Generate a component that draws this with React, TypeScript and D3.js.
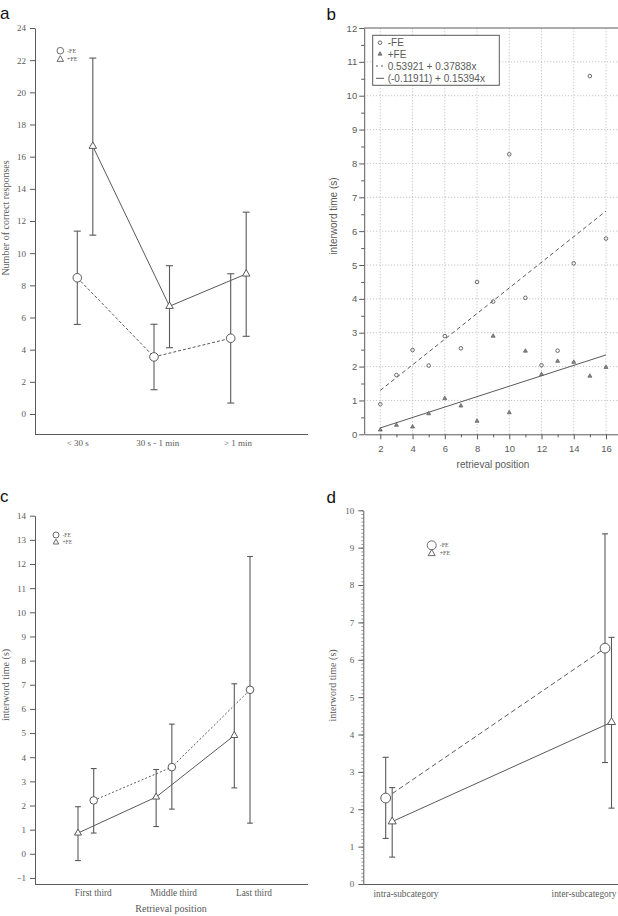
import React, { useEffect, useRef } from 'react';
import * as d3 from 'd3';

// a: number of correct responses per time bin (mean with error range)
const timeBins = ['< 30 s', '30 s - 1 min', '> 1 min'];
const correctNoFE = [8.47, 3.55, 4.71];
const correctNoFELow = [5.57, 1.51, 0.68];
const correctNoFEHigh = [11.37, 5.58, 8.72];
const correctFE = [16.65, 6.7, 8.71];
const correctFELow = [11.12, 4.12, 4.83];
const correctFEHigh = [22.13, 9.22, 12.55];
const correctTicks = [0, 2, 4, 6, 8, 10, 12, 14, 16, 18, 20, 22, 24];

// b: interword time by retrieval position, with linear fits (intercept, slope)
const retrievalPos = [2, 3, 4, 5, 6, 7, 8, 9, 10, 11, 12, 13, 14, 15, 16];
const gapNoFE = [0.89, 1.75, 2.49, 2.03, 2.9, 2.54, 4.5, 3.92, 8.27, 4.03, 2.04, 2.47, 5.05, 10.58, 5.78];
const gapFE = [0.13, 0.27, 0.22, 0.61, 1.06, 0.84, 0.39, 2.9, 0.64, 2.46, 1.77, 2.16, 2.13, 1.72, 1.98];
const fitNoFE = [0.53921, 0.37838];
const fitFE = [-0.11911, 0.15394];
const posTicks = [2, 4, 6, 8, 10, 12, 14, 16];
const posMinor = [3, 5, 7, 9, 11, 13, 15];
const gapTicks = [0, 1, 2, 3, 4, 5, 6, 7, 8, 9, 10, 11, 12];

// c: interword time by third of the retrieval sequence
const thirds = ['First third', 'Middle third', 'Last third'];
const thirdNoFE = [2.21, 3.59, 6.79];
const thirdNoFELow = [0.86, 1.85, 1.27];
const thirdNoFEHigh = [3.53, 5.37, 12.31];
const thirdFE = [0.86, 2.35, 4.9];
const thirdFELow = [-0.28, 1.13, 2.73];
const thirdFEHigh = [1.95, 3.49, 7.04];
const thirdTicks = [-1, 0, 1, 2, 3, 4, 5, 6, 7, 8, 9, 10, 11, 12, 13, 14];

// d: interword time within / between subcategories
const subcats = ['intra-subcategory', 'inter-subcategory'];
const subNoFE = [2.3, 6.31];
const subNoFELow = [1.22, 3.25];
const subNoFEHigh = [3.39, 9.37];
const subFE = [1.67, 4.33];
const subFELow = [0.72, 2.03];
const subFEHigh = [2.58, 6.6];
const subTicks = [0, 1, 2, 3, 4, 5, 6, 7, 8, 9, 10];

const INK = '#5a5a5a';
const SERIF = '"Liberation Serif", "Times New Roman", serif';
const SANS = '"Liberation Sans", Arial, sans-serif';

const triSize = (side: number) => (Math.sqrt(3) * side * side) / 4;

function styleAxis(ag: any, family: string, size: number, color = INK) {
  ag.attr('font-family', null).attr('font-size', null);
  ag.select('.domain').attr('stroke', color);
  ag.selectAll('.tick line').attr('stroke', color);
  ag.selectAll('.tick text')
    .attr('fill', color)
    .style('font-family', family)
    .style('font-size', `${size}px`);
}

function leftAxis(g: any, y: any, ticks: number[], x0: number, family: string, size: number) {
  const ag = g.append('g')
    .attr('transform', `translate(${x0},0)`)
    .call(d3.axisLeft(y).tickValues(ticks).tickSize(5).tickSizeOuter(0).tickPadding(4));
  styleAxis(ag, family, size);
  return ag;
}

function marker(g: any, shape: string, x: number, y: number, size: number, sw = 1) {
  if (shape === 'circle') {
    g.append('circle').attr('cx', x).attr('cy', y).attr('r', size)
      .attr('fill', '#fff').attr('stroke', INK).attr('stroke-width', sw);
  } else {
    g.append('path').attr('d', d3.symbol(d3.symbolTriangle, triSize(size))())
      .attr('transform', `translate(${x},${y})`)
      .attr('fill', '#fff').attr('stroke', INK).attr('stroke-width', sw);
  }
}

type Series = {
  xs: number[];
  vals: number[];
  low: number[];
  high: number[];
  shape: string;
  size: number;
  dash: string | null;
};

// connecting lines first, then error bars, then markers on top
function drawSeries(g: any, y: any, list: Series[], cap: number) {
  const lines = g.append('g');
  const bars = g.append('g');
  const marks = g.append('g');
  list.forEach((s) => {
    const pts = s.vals.map((v, i) => [s.xs[i], y(v)] as [number, number]);
    lines.append('path').attr('d', d3.line()(pts))
      .attr('fill', 'none').attr('stroke', INK).attr('stroke-width', 1)
      .attr('stroke-dasharray', s.dash);
    s.vals.forEach((v, i) => {
      const x = s.xs[i];
      const y1 = y(s.high[i]);
      const y0 = y(s.low[i]);
      bars.append('line').attr('x1', x).attr('x2', x).attr('y1', y1).attr('y2', y0)
        .attr('stroke', INK).attr('stroke-width', 1.1);
      [y1, y0].forEach((yy) => {
        bars.append('line').attr('x1', x - cap).attr('x2', x + cap).attr('y1', yy).attr('y2', yy)
          .attr('stroke', INK).attr('stroke-width', 1.1);
      });
    });
    s.vals.forEach((v, i) => marker(marks, s.shape, s.xs[i], y(v), s.size));
  });
}

function smallLegend(g: any, x: number, y: number, r: number, tri: number, gap: number, fs: number) {
  marker(g, 'circle', x, y, r, 0.9);
  marker(g, 'triangle', x, y + gap, tri, 0.9);
  g.append('text').attr('x', x + r + 3.5).attr('y', y + fs * 0.3).text('-FE')
    .attr('font-family', SERIF).attr('font-size', fs).attr('fill', INK);
  g.append('text').attr('x', x + r + 3.5).attr('y', y + gap + fs * 0.3).text('+FE')
    .attr('font-family', SERIF).attr('font-size', fs).attr('fill', INK);
}

function panelLetter(g: any, x: number, y: number, t: string) {
  g.append('text').attr('x', x).attr('y', y).text(t)
    .attr('font-family', SANS).attr('font-size', 17).attr('fill', '#111');
}

function yTitle(g: any, x: number, y: number, t: string, family: string) {
  g.append('text').attr('transform', `translate(${x},${y}) rotate(-90)`)
    .attr('text-anchor', 'middle').text(t)
    .attr('font-family', family).attr('font-size', 10).attr('fill', INK);
}

function drawA(g: any) {
  const y = d3.scaleLinear().domain([-1.244, 24]).range([434, 28]);
  const x = d3.scalePoint().domain(timeBins).range([77.3, 230.7]);
  const xl = d3.scalePoint().domain(timeBins).range([77.7, 238]);
  panelLetter(g, 0, 19, 'a');
  leftAxis(g, y, correctTicks, 35, SERIF, 9);
  g.append('line').attr('x1', 35).attr('x2', 308).attr('y1', 434.5).attr('y2', 434.5)
    .attr('stroke', INK);
  timeBins.forEach((c) => {
    g.append('text').attr('x', xl(c)).attr('y', 445.5).attr('text-anchor', 'middle').text(c)
      .attr('font-family', SERIF).attr('font-size', 9).attr('fill', INK);
  });
  yTitle(g, 9, 218, 'Number of correct responses', SERIF);
  const cx = timeBins.map((c) => x(c) as number);
  drawSeries(g, y, [
    { xs: cx, vals: correctNoFE, low: correctNoFELow, high: correctNoFEHigh, shape: 'circle', size: 4.3, dash: '3,2' },
    { xs: cx.map((v) => v + 15.5), vals: correctFE, low: correctFELow, high: correctFEHigh, shape: 'triangle', size: 7.5, dash: null },
  ], 3.5);
  smallLegend(g, 60.3, 50.7, 3.3, 6.5, 8.8, 6);
}

function drawB(g: any) {
  const x = d3.scaleLinear().domain([1, 17]).range([364.2, 622.1]);
  const y = d3.scaleLinear().domain([0, 12]).range([434.3, 28]);
  panelLetter(g, 326.5, 20, 'b');

  // dotted grid
  const grid = g.append('g').attr('stroke', '#a8a8a8').attr('stroke-width', 0.8)
    .attr('stroke-dasharray', '1,2');
  posTicks.forEach((p) => grid.append('line').attr('x1', x(p)).attr('x2', x(p))
    .attr('y1', y(0)).attr('y2', y(12)));
  gapTicks.filter((t) => t > 0 && t < 12).forEach((t) => grid.append('line')
    .attr('x1', x(1)).attr('x2', 618).attr('y1', y(t)).attr('y2', y(t)));

  // frame top
  g.append('line').attr('x1', x(1)).attr('x2', 618).attr('y1', y(12)).attr('y2', y(12))
    .attr('stroke', INK).attr('stroke-width', 1.2);

  const ya = g.append('g').attr('transform', `translate(${x(1)},0)`)
    .call(d3.axisLeft(y).tickValues(gapTicks).tickSize(5).tickSizeOuter(0).tickPadding(2));
  styleAxis(ya, SANS, 9.5);
  const yMinor = g.append('g').attr('transform', `translate(${x(1)},0)`)
    .call(d3.axisLeft(y).tickValues(d3.range(0.5, 12, 1)).tickSize(3).tickFormat(() => ''));
  styleAxis(yMinor, SANS, 9.5);
  yMinor.select('.domain').remove();

  const xa = g.append('g').attr('transform', `translate(0,${y(0)})`)
    .call(d3.axisBottom(x).tickValues(posTicks).tickSize(5).tickSizeOuter(0).tickPadding(6));
  styleAxis(xa, SANS, 9.5);
  const xMinor = g.append('g').attr('transform', `translate(0,${y(0)})`)
    .call(d3.axisBottom(x).tickValues(posMinor).tickSize(3).tickFormat(() => ''));
  styleAxis(xMinor, SANS, 9.5);
  xMinor.select('.domain').remove();

  g.append('text').attr('x', 493).attr('y', 468).attr('text-anchor', 'middle')
    .text('retrieval position').attr('font-family', SANS).attr('font-size', 10).attr('fill', INK);
  yTitle(g, 337, 216, 'interword time (s)', SANS);

  // fitted lines
  const fitLine = (f: number[], dash: string | null) => {
    const ends = [2, 16].map((p) => [x(p), y(f[0] + f[1] * p)] as [number, number]);
    g.append('path').attr('d', d3.line()(ends)).attr('fill', 'none')
      .attr('stroke', INK).attr('stroke-width', 1).attr('stroke-dasharray', dash);
  };
  fitLine(fitNoFE, '4,3');
  fitLine(fitFE, null);

  retrievalPos.forEach((p, i) => {
    g.append('circle').attr('cx', x(p)).attr('cy', y(gapNoFE[i])).attr('r', 1.8)
      .attr('fill', 'none').attr('stroke', INK).attr('stroke-width', 0.9);
    g.append('path').attr('d', d3.symbol(d3.symbolTriangle, triSize(4))())
      .attr('transform', `translate(${x(p)},${y(gapFE[i])})`)
      .attr('fill', '#888').attr('stroke', INK).attr('stroke-width', 0.7);
  });

  // legend box
  const lg = g.append('g');
  lg.append('rect').attr('x', 372.7).attr('y', 35.3).attr('width', 126.6).attr('height', 50)
    .attr('fill', '#fff').attr('stroke', INK).attr('stroke-width', 1);
  const rows = [
    '-FE',
    '+FE',
    `${fitNoFE[0]} + ${fitNoFE[1]}x`,
    `(${fitFE[0]}) + ${fitFE[1]}x`,
  ];
  const rowY = [42.7, 54, 66, 78.3];
  rows.forEach((t, i) => {
    lg.append('text').attr('x', 387.7).attr('y', rowY[i] + 3.6).text(t)
      .attr('font-family', SANS).attr('font-size', 10).attr('fill', INK);
  });
  lg.append('circle').attr('cx', 380).attr('cy', rowY[0]).attr('r', 1.8)
    .attr('fill', 'none').attr('stroke', INK).attr('stroke-width', 0.9);
  lg.append('path').attr('d', d3.symbol(d3.symbolTriangle, triSize(4))())
    .attr('transform', `translate(380,${rowY[1]})`).attr('fill', '#888')
    .attr('stroke', INK).attr('stroke-width', 0.7);
  lg.append('line').attr('x1', 376).attr('x2', 384).attr('y1', rowY[2]).attr('y2', rowY[2])
    .attr('stroke', INK).attr('stroke-dasharray', '2,3');
  lg.append('line').attr('x1', 376).attr('x2', 384).attr('y1', rowY[3]).attr('y2', rowY[3])
    .attr('stroke', INK);
}

function drawC(g: any) {
  const y = d3.scaleLinear().domain([-1.25, 14]).range([884, 515.7]);
  const x = d3.scalePoint().domain(thirds).range([78, 234.3]);
  const xl = d3.scalePoint().domain(thirds).range([93.3, 254]);
  panelLetter(g, 0, 502, 'c');
  leftAxis(g, y, thirdTicks, 35, SERIF, 9);
  g.append('line').attr('x1', 35).attr('x2', 308).attr('y1', 884.5).attr('y2', 884.5)
    .attr('stroke', INK);
  thirds.forEach((c) => {
    g.append('text').attr('x', xl(c)).attr('y', 896).attr('text-anchor', 'middle').text(c)
      .attr('font-family', SERIF).attr('font-size', 9.3).attr('fill', INK);
  });
  g.append('text').attr('x', 171).attr('y', 912).attr('text-anchor', 'middle')
    .text('Retrieval position').attr('font-family', SERIF).attr('font-size', 10).attr('fill', INK);
  yTitle(g, 9, 685, 'interword time (s)', SERIF);
  const tx = thirds.map((c) => x(c) as number);
  drawSeries(g, y, [
    { xs: tx.map((v) => v + 15.7), vals: thirdNoFE, low: thirdNoFELow, high: thirdNoFEHigh, shape: 'circle', size: 3.8, dash: '2,2' },
    { xs: tx, vals: thirdFE, low: thirdFELow, high: thirdFEHigh, shape: 'triangle', size: 7, dash: null },
  ], 2.9);
  smallLegend(g, 56, 535, 3, 5.5, 7.4, 5.5);
}

function drawD(g: any) {
  const y = d3.scaleLinear().domain([0, 10]).range([884, 510.3]);
  const x = d3.scalePoint().domain(subcats).range([385.7, 605]);
  const xl = d3.scalePoint().domain(subcats).range([406, 584]);
  panelLetter(g, 326.5, 502.5, 'd');
  const minor = g.append('g').attr('transform', 'translate(363.3,0)')
    .call(d3.axisLeft(y).tickValues(d3.range(0, 10.001, 0.1)).tickSize(2).tickFormat(() => ''));
  styleAxis(minor, SERIF, 9, '#999');
  minor.select('.domain').remove();
  leftAxis(g, y, subTicks, 363.3, SERIF, 9);
  g.append('line').attr('x1', 363.3).attr('x2', 618).attr('y1', 884.5).attr('y2', 884.5)
    .attr('stroke', INK);
  subcats.forEach((c) => {
    g.append('text').attr('x', xl(c)).attr('y', 896.5).attr('text-anchor', 'middle').text(c)
      .attr('font-family', SERIF).attr('font-size', 9.3).attr('fill', INK);
  });
  yTitle(g, 336, 685.5, 'interword time (s)', SERIF);
  const sx = subcats.map((c) => x(c) as number);
  drawSeries(g, y, [
    { xs: sx, vals: subNoFE, low: subNoFELow, high: subNoFEHigh, shape: 'circle', size: 4.9, dash: '5,3' },
    { xs: sx.map((v) => v + 6.5), vals: subFE, low: subFELow, high: subFEHigh, shape: 'triangle', size: 8, dash: null },
  ], 3);
  smallLegend(g, 431.7, 545.3, 4.5, 7, 8.3, 6);
}

export default function App() {
  const svgRef = useRef<SVGSVGElement>(null);

  useEffect(() => {
    if (!svgRef.current) return;
    const svg = d3.select(svgRef.current);
    svg.selectAll('*').remove();
    drawA(svg.append('g'));
    drawB(svg.append('g'));
    drawC(svg.append('g'));
    drawD(svg.append('g'));
  }, []);

  return (
    <svg
      ref={svgRef}
      width={618}
      height={916}
      style={{ position: 'absolute', left: 0, top: 0, background: '#fff', display: 'block' }}
    />
  );
}
